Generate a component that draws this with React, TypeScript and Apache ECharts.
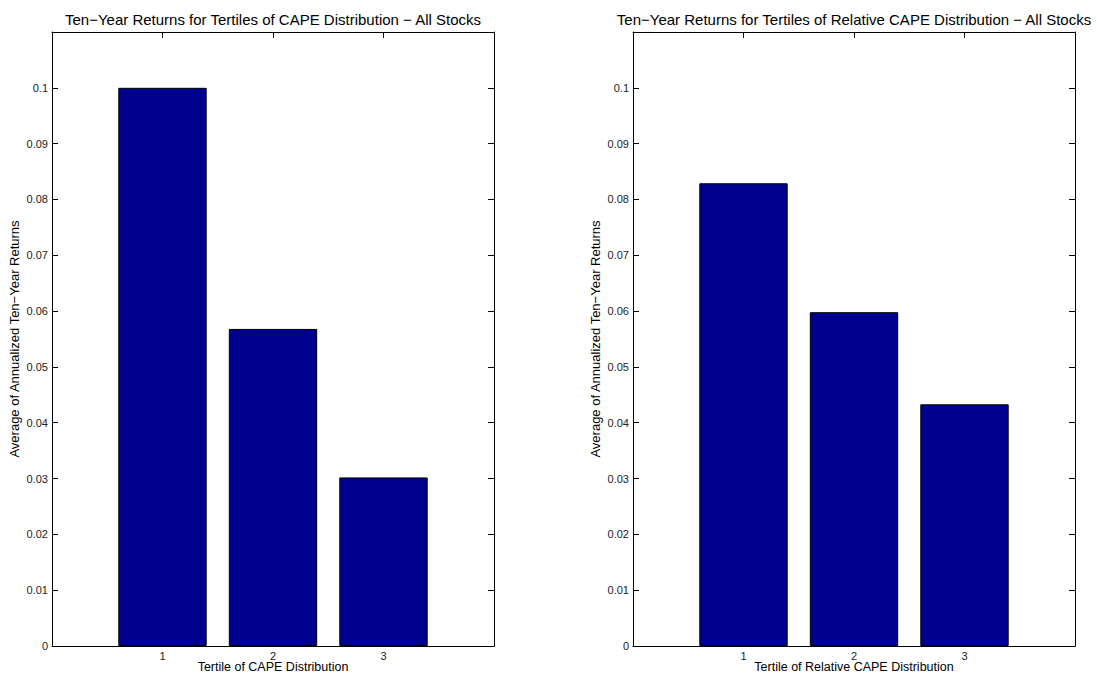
import React, { useEffect, useRef } from "react";
import * as echarts from "echarts";

const tertiles = [1, 2, 3];
const capeReturns = [0.1, 0.0568, 0.0302];
const relCapeReturns = [0.0829, 0.0598, 0.0433];
const titles = [
  "Ten\u2212Year Returns for Tertiles of CAPE Distribution \u2212 All Stocks",
  "Ten\u2212Year Returns for Tertiles of Relative CAPE Distribution \u2212 All Stocks",
];
const xNames = ["Tertile of CAPE Distribution", "Tertile of Relative CAPE Distribution"];
const yName = "Average of Annualized Ten\u2212Year Returns";

const FONT = "Liberation Sans, Arial, Helvetica, sans-serif";
const BAR = "#00008F";

export default function App() {
  const ref = useRef<HTMLDivElement>(null);
  useEffect(() => {
    const chart = echarts.init(ref.current!, null, { renderer: "svg" });
    const lefts = [52, 633];
    const W = 442;
    const top = 32;
    const H = 614;
    const grids = lefts.map((l) => ({
      left: l, top, width: W, height: H, outerBoundsMode: "none", containLabel: false,
    }));
    const xAxes: any[] = [];
    const yAxes: any[] = [];
    const axisLine = { show: true, onZero: false, lineStyle: { color: "#000", width: 1 } };
    const tickStyle = { show: true, inside: true, length: 6, lineStyle: { color: "#000" } };
    [0, 1].forEach((g) => {
      xAxes.push({
        type: "value", gridIndex: g, min: 0, max: 4, interval: 1, position: "bottom",
        axisLine, axisTick: tickStyle, splitLine: { show: false },
        axisLabel: {
          color: "#222", fontSize: 11, fontFamily: FONT, margin: 4,
          formatter: (v: number) => (v >= 1 && v <= 3 ? String(v) : ""),
        },
      });
      xAxes.push({
        type: "value", gridIndex: g, min: 0, max: 4, interval: 1, position: "top",
        axisLine, axisTick: tickStyle, splitLine: { show: false }, axisLabel: { show: false },
      });
      yAxes.push({
        type: "value", gridIndex: g, min: 0, max: 0.11, interval: 0.01, position: "left",
        axisLine, axisTick: tickStyle, splitLine: { show: false },
        axisLabel: {
          color: "#222", fontSize: 11, fontFamily: FONT, margin: 4,
          formatter: (v: number) => (v > 0.105 ? "" : String(Math.round(v * 100) / 100)),
        },
        name: yName, nameLocation: "middle", nameGap: 31, nameRotate: 90,
        nameTextStyle: { color: "#000", fontSize: 13, fontFamily: FONT },
      });
      yAxes.push({
        type: "value", gridIndex: g, min: 0, max: 0.11, interval: 0.01, position: "right",
        axisLine, axisTick: tickStyle, splitLine: { show: false }, axisLabel: { show: false },
      });
    });
    const dataSets = [capeReturns, relCapeReturns];
    const series = dataSets.map((vals, g) => ({
      type: "bar",
      xAxisIndex: g * 2,
      yAxisIndex: g * 2,
      barWidth: (W / 4) * 0.8,
      data: tertiles.map((t, i) => [t, vals[i]]),
      itemStyle: { color: BAR, borderColor: "#000", borderWidth: 1 },
      silent: true,
    }));
    const titleTexts = titles.map((t, g) => ({
      type: "text",
      x: lefts[g] + W / 2,
      y: 19,
      style: {
        text: t, fill: "#000", fontSize: 15, fontFamily: FONT,
        textAlign: "center", textVerticalAlign: "middle",
      },
    }));
    const xNameTexts = xNames.map((t, g) => ({
      type: "text",
      x: lefts[g] + W / 2,
      y: 667,
      style: {
        text: t, fill: "#000", fontSize: 12.5, fontFamily: FONT,
        textAlign: "center", textVerticalAlign: "middle",
      },
    }));
    chart.setOption({
      animation: false,
      backgroundColor: "#fff",
      grid: grids,
      xAxis: xAxes,
      yAxis: yAxes,
      series,
      graphic: [...titleTexts, ...xNameTexts],
    });
    return () => chart.dispose();
  }, []);
  return (
    <div
      ref={ref}
      style={{ position: "absolute", left: 0, top: 0, width: 1097, height: 674 }}
    />
  );
}
